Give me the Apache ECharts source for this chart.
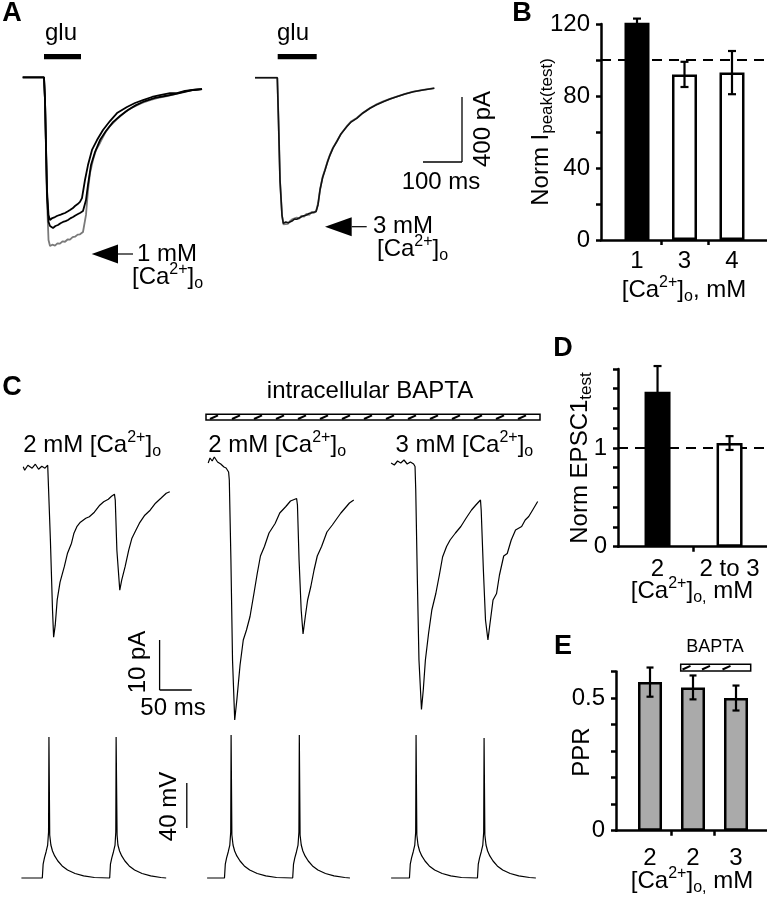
<!DOCTYPE html>
<html><head><meta charset="utf-8">
<script src="https://cdn.jsdelivr.net/npm/echarts@6/dist/echarts.min.js"></script>
<style>html,body{margin:0;padding:0;background:#fff}#c{width:767px;height:899px}</style>
</head><body><div id="c"></div>
<script>
// ---------- DATA ----------
// Panel A: glutamate-evoked currents [time ms, current pA]
const aLeftGray = [[0,0],[54.6,0],[57.2,-140],[62.3,-755],[66.2,-1001],[70,-1038],[76,-1030],[82.8,-1036],[89,-1022],[95.6,-1024],[102,-1010],[108.5,-1012],[115,-998],[121.3,-999],[128,-984],[134.1,-981],[141,-968],[146.9,-966],[154.6,-952],[162.3,-847],[167.4,-694],[172.6,-589],[180.2,-509],[187.9,-447],[198.2,-404],[211,-343],[223.8,-300],[241.8,-257],[262.3,-214],[282.8,-183],[305.9,-158],[326.4,-140],[346.9,-127],[370,-115],[390.5,-103],[411,-90],[434.1,-78],[459.8,-72]];
const aLeftBlack1 = [[0,0],[54.6,0],[57.2,-140],[62.3,-694],[66.2,-847],[70,-878],[76,-866],[82.8,-860],[89,-852],[95.6,-847],[102,-840],[108.5,-835],[115,-826],[121.3,-817],[128,-806],[134.1,-792],[141,-780],[146.9,-767],[152,-743],[159.7,-632],[167.4,-540],[177.7,-447],[190.5,-386],[205.9,-324],[223.8,-269],[241.8,-220],[267.4,-183],[287.9,-158],[308.4,-140],[331.5,-121],[352,-109],[377.7,-97],[395.6,-97],[416.1,-84],[436.7,-78],[459.8,-72]];
const aLeftBlack2 = [[0,0],[54.6,0],[57.2,-140],[62.3,-724],[66.2,-890],[70,-915],[77.7,-927],[84,-915],[90.5,-909],[97,-898],[103.3,-890],[110,-885],[116.2,-878],[122,-868],[129,-860],[135,-850],[141.8,-841],[148,-833],[154.6,-823],[162.3,-755],[167.4,-662],[175.1,-540],[185.4,-460],[198.2,-386],[213.5,-330],[231.5,-276],[249.5,-238],[270,-201],[290.5,-171],[313.6,-146],[339.2,-127],[364.8,-115],[390.5,-103],[416.1,-90],[436.7,-78],[459.8,-72]];
const aRightBlack = [[0,0],[57.2,0],[60.2,-260],[64.1,-630],[69.2,-845],[72.6,-896],[79,-888],[85.4,-892],[90,-880],[94.9,-882],[101,-870],[106.9,-871],[112,-860],[118,-857],[125,-850],[132.6,-845],[138,-836],[143.6,-833],[150,-828],[156.4,-825],[161.5,-783],[166.7,-691],[173.1,-617],[179.5,-569],[185.9,-519],[192.3,-476],[200,-433],[209.5,-394],[220.5,-346],[235.1,-302],[246.2,-273],[260.8,-250],[277,-217],[294.9,-188],[310.3,-168],[329,-148],[346.2,-131],[363.3,-117],[384.6,-100],[405.9,-86],[430.8,-76],[459.8,-65]];
const aRightGray = [[0,0],[57.2,0],[60.4,-270],[64.3,-640],[69.4,-850],[73,-903],[78,-895],[84,-900],[89,-885],[95,-872],[100,-880],[107,-860],[113,-868],[119,-850],[126,-855],[132,-838],[139,-845],[145,-826],[151,-832],[157,-818],[162,-770],[167,-684],[173.5,-610],[180,-562],[186,-515],[192.5,-472],[200,-430],[210,-390],[221,-343],[235,-300],[246,-270],[261,-248],[277,-215],[295,-186],[310,-166],[329,-146],[346,-130],[363,-116],[385,-99],[406,-85],[431,-75],[459.8,-64]];

// Panel B: Norm Ipeak(test)
const bCats = ['1', '3', '4'];
const bMeans = [121, 92, 93];
const bErrs = [2, 7, 12];
const bRef = 100;

// Panel C: EPSCs [time ms, current pA] and action potentials [time ms, mV]
const cI1 = [[0,0],[2.2,-0.7],[7.2,0.3],[13.8,-0.3],[18.8,0.5],[23.8,-0.5],[28.8,0.1],[33.8,-0.3],[38,0.3],[38.8,0],[42.2,-14.7],[45.5,-28.7],[47.2,-34.1],[49.7,-31.7],[52.7,-26.7],[57.2,-23.1],[63.8,-20],[68.8,-17.3],[75,-15.3],[78.8,-13.3],[83.3,-12],[88.8,-11.1],[97.2,-10.3],[102.7,-10],[110.5,-9.1],[118.9,-7.7],[125,-7],[132.2,-6.5],[137.2,-5.9],[141.7,-5.5],[143,-6.7],[145.5,-16.7],[150,-24.7],[153,-22.7],[158.3,-20],[163.9,-16.7],[168.9,-14.3],[175,-12.7],[180.5,-11.3],[188.9,-9.7],[197.2,-8.7],[205.5,-7.3],[213.9,-6.3],[222.2,-5.3],[227.7,-5]];
const cI2 = [[0,0.6],[2.8,1.6],[6.2,1],[9.5,1.8],[14.5,0.8],[19.5,0.4],[24.5,-0.2],[27.8,-0.4],[31.7,-1.2],[32.8,-2.8],[35.3,-18.8],[37.8,-38.8],[41.2,-50.8],[44.5,-46.8],[49.5,-39.8],[54.5,-34.8],[59.5,-32.8],[65,-30.1],[71.2,-25.4],[76.2,-21.5],[81.2,-18],[87.4,-16.1],[94.5,-13.4],[104,-11.5],[111.2,-9.4],[120.7,-8.1],[127.9,-7],[137.4,-6.5],[138.7,-7.8],[141.2,-18.8],[144.5,-28.8],[147.4,-33.6],[151.2,-29.8],[154.5,-26.8],[159.5,-24.1],[164.5,-20.8],[169.5,-18],[176.2,-16.1],[184.5,-13.2],[192.9,-11.8],[198.4,-10.8],[206.2,-9.4],[212.9,-8.4],[219.5,-7.4],[226.2,-6.8]];
const cI3 = [[0,0.4],[5,0],[10,0.8],[15,0.4],[20,1],[25,0.2],[30,0.6],[35,0.2],[37.2,-0.3],[38.3,-5],[40.8,-23],[43.3,-39],[47.2,-48.9],[50,-45],[53.3,-39],[58.3,-33.6],[63.3,-29],[69.5,-25.7],[75,-22],[80,-18.4],[86.2,-16.3],[91.7,-15],[100,-13.6],[108.4,-12.3],[116.7,-10.6],[125,-9],[131.7,-8],[138.9,-7],[140,-9],[143.4,-21],[146.7,-31],[150.5,-35],[153.4,-32],[158.4,-27],[163.9,-25.7],[168.4,-22],[175,-18.2],[180.5,-17.7],[186.7,-15],[193.4,-13],[202.9,-12.3],[208.4,-11],[213.9,-10.3],[220,-9],[227.8,-7.3]];
const cV1 = [[0,-65],[32.5,-65],[33.8,-52.6],[35.8,-47.2],[38.3,-41.9],[40.8,-35.7],[42.2,-24.1],[42.8,60.3],[43.7,60.3],[44,-26.8],[45.8,-35.7],[48.3,-41],[51.7,-45.4],[56.7,-49.9],[63.3,-54.3],[71.7,-57.9],[83.4,-61],[96.7,-63.2],[113.4,-64.6],[137.2,-65],[138.4,-52.6],[140.5,-47.2],[143,-41.9],[145.5,-35.7],[146.7,-24.1],[147.2,60.3],[148,60.3],[148.7,-26.8],[150,-35.7],[152.5,-41],[155.9,-45.4],[160.9,-49.9],[167.5,-54.3],[175.9,-57.9],[187.5,-61],[200.9,-63.2],[216.7,-64.6],[225,-65]];
const cV2 = [[0,-65],[27,-65],[28.3,-52.6],[30.3,-47.2],[32.8,-41.9],[35.3,-35.7],[36.7,-24.1],[37.3,62],[38.2,62],[38.5,-26.8],[40.3,-35.7],[42.8,-41],[46.2,-45.4],[51.2,-49.9],[57.8,-54.3],[66.2,-57.9],[77.9,-61],[91.2,-63.2],[107.9,-64.6],[133,-65],[134.3,-52.6],[136.3,-47.2],[138.8,-41.9],[141.3,-35.7],[142.7,-24.1],[143.3,62],[144.2,62],[144.5,-26.8],[146.3,-35.7],[148.8,-41],[152.2,-45.4],[157.2,-49.9],[163.8,-54.3],[172.2,-57.9],[183.9,-61],[197.2,-63.2],[213.9,-64.6],[222,-65]];
const cV3 = [[0,-65],[28.5,-65],[29.8,-52.6],[31.8,-47.2],[34.3,-41.9],[36.8,-35.7],[38.2,-24.1],[38.8,62],[39.7,62],[40,-26.8],[41.8,-35.7],[44.3,-41],[47.7,-45.4],[52.7,-49.9],[59.3,-54.3],[67.7,-57.9],[79.4,-61],[92.7,-63.2],[109.4,-64.6],[134.2,-65],[135.5,-52.6],[137.5,-47.2],[140,-41.9],[142.5,-35.7],[143.9,-24.1],[144.5,59.5],[145.4,59.5],[145.7,-26.8],[147.5,-35.7],[150,-41],[153.4,-45.4],[158.4,-49.9],[165,-54.3],[173.4,-57.9],[185.1,-61],[198.4,-63.2],[215.1,-64.6],[225,-65]];

// Panel D: Norm EPSC1test
const dCats = ['2', '2 to 3'];
const dMeans = [1.57, 1.05];
const dErrs = [0.26, 0.07];
const dRef = 1;

// Panel E: PPR
const eCats = ['2', '2', '3'];
const eMeans = [0.56, 0.54, 0.50];
const eErrs = [0.055, 0.045, 0.047];

// ---------- RENDER ----------
const FONT = '"Liberation Sans", Arial, Helvetica, sans-serif';
const chart = echarts.init(document.getElementById('c'), null, {renderer: 'canvas'});

function richSet(fs, subFs) {
  return {
    n:   {fontSize: fs, fontFamily: FONT, fill: '#000', color: '#000', lineHeight: 30},
    sup: {fontSize: 16, fontFamily: FONT, fill: '#000', color: '#000', verticalAlign: 'top', lineHeight: 22},
    sub: {fontSize: subFs || 16, fontFamily: FONT, fill: '#000', color: '#000', verticalAlign: 'bottom', lineHeight: 8}
  };
}
function txt(x, y, text, o) {
  o = o || {};
  return {
    type: 'text', x: x, y: y, rotation: o.rot || 0, z: 100,
    style: {
      text: text, fill: '#000', fontSize: o.fs || 24, fontFamily: FONT,
      fontWeight: o.fw || 'normal',
      align: o.align || 'center', textAlign: o.align || 'center',
      verticalAlign: 'middle', textVerticalAlign: 'middle',
      rich: o.rich
    }
  };
}
function seg(x1, y1, x2, y2, w) {
  return {type: 'line', z: 100, shape: {x1, y1, x2, y2}, style: {stroke: '#000', lineWidth: w || 1.3}};
}

// grids
const grids = [], xAxes = [], yAxes = [], series = [];
function traceGrid(left, top, width, height, xmax, ymin, ymax) {
  const i = grids.length;
  grids.push({left, top, width, height});
  xAxes.push({type: 'value', gridIndex: i, min: 0, max: xmax, show: false});
  yAxes.push({type: 'value', gridIndex: i, min: ymin, max: ymax, show: false});
  return i;
}
function traceSeries(gi, data, color, w) {
  series.push({type: 'line', xAxisIndex: gi, yAxisIndex: gi, data, symbol: 'none', showSymbol: false,
    clip: false, silent: true, lineStyle: {color, width: w}, z: 3});
}

// Panel A
const gAL = traceGrid(22.7, 56.2, 195, 216.1, 500, -1200, 130);
const gAR = traceGrid(255, 56.6, 195, 216.1, 500, -1200, 130);
traceSeries(gAL, aLeftGray, '#7a7a7a', 1.8);
traceSeries(gAL, aLeftBlack2, '#000', 1.8);
traceSeries(gAL, aLeftBlack1, '#000', 1.8);
traceSeries(gAR, aRightGray, '#7a7a7a', 1.8);
traceSeries(gAR, aRightBlack, '#111', 1.6);

// Panel C traces
const cWidth = 148, cXmax = 230;
const gC1 = traceGrid(23.25, 446.7, cWidth, 300, cXmax, -56, 4);
const gC2 = traceGrid(208.2, 446, cWidth, 300, cXmax, -56, 4);
const gC3 = traceGrid(391.1, 445, cWidth, 300, cXmax, -56, 4);
traceSeries(gC1, cI1, '#000', 1.2);
traceSeries(gC2, cI2, '#000', 1.2);
traceSeries(gC3, cI3, '#000', 1.2);
const gV1 = traceGrid(21.4, 730.6, cWidth, 153, cXmax, -70, 66);
const gV2 = traceGrid(207.1, 730.6, cWidth, 153, cXmax, -70, 66);
const gV3 = traceGrid(391.1, 730.6, cWidth, 153, cXmax, -70, 66);
traceSeries(gV1, cV1, '#000', 1.2);
traceSeries(gV2, cV2, '#000', 1.2);
traceSeries(gV3, cV3, '#000', 1.2);

// Bar panels
const AX = {color: '#000', width: 2.5};
function barPanel(cfg) {
  const i = grids.length;
  grids.push({left: cfg.left, top: cfg.top, width: cfg.width, height: cfg.height});
  const n = cfg.cats.length;
  const ticks = [];
  for (let k = 1; k < n; k++) ticks.push(k + 0.5);
  xAxes.push({
    type: 'value', gridIndex: i, min: cfg.xmin, max: cfg.xmax,
    splitLine: {show: false},
    axisLine: {show: true, lineStyle: AX},
    axisTick: {show: true, customValues: ticks, length: 5, lineStyle: AX},
    axisLabel: {show: true, customValues: cfg.cats.map((c, k) => k + 1),
      formatter: v => cfg.cats[Math.round(v) - 1], margin: cfg.xLabelMargin,
      fontSize: 24, fontFamily: FONT, color: '#000'}
  });
  yAxes.push({
    type: 'value', gridIndex: i, min: 0, max: cfg.ymax,
    splitLine: {show: false},
    axisLine: {show: true, lineStyle: AX},
    axisTick: {show: true, customValues: cfg.yTicks, length: 5, lineStyle: AX},
    axisLabel: {show: true, customValues: cfg.yLabels, margin: 11,
      formatter: v => String(v), fontSize: 24, fontFamily: FONT, color: '#000'}
  });
  if (cfg.ref !== undefined) {
    series.push({type: 'line', xAxisIndex: i, yAxisIndex: i, z: 1, silent: true, symbol: 'none',
      data: [[cfg.xmin, cfg.ref], [cfg.xmax, cfg.ref]],
      lineStyle: {color: '#000', width: 2, type: [10, 7]}});
  }
  series.push({type: 'bar', xAxisIndex: i, yAxisIndex: i, z: 2, silent: true, barWidth: cfg.barWidth,
    data: cfg.means.map((m, k) => ({value: [k + 1, m],
      itemStyle: {color: cfg.fill(k), borderColor: '#000', borderWidth: 2.5}}))});
  series.push({type: 'custom', xAxisIndex: i, yAxisIndex: i, z: 5, silent: true, clip: false,
    data: cfg.means.map((m, k) => [k + 1, m - cfg.errs[k], m + cfg.errs[k]]),
    renderItem: (params, api) => {
      const x = api.value(0);
      const lo = api.coord([x, api.value(1)]);
      const hi = api.coord([x, api.value(2)]);
      const w = cfg.cap / 2;
      const st = {stroke: '#000', lineWidth: 2.2};
      return {type: 'group', children: [
        {type: 'line', shape: {x1: lo[0], y1: lo[1], x2: hi[0], y2: hi[1]}, style: st},
        {type: 'line', shape: {x1: hi[0] - w, y1: hi[1], x2: hi[0] + w, y2: hi[1]}, style: st},
        {type: 'line', shape: {x1: lo[0] - w, y1: lo[1], x2: lo[0] + w, y2: lo[1]}, style: st}
      ]};
    }});
}
barPanel({left: 601, top: 24, width: 166, height: 216, xmin: 0.242, xmax: 3.737,
  cats: bCats, means: bMeans, errs: bErrs, ref: bRef, ymax: 120,
  yTicks: [0, 20, 40, 60, 80, 100, 120], yLabels: [0, 40, 80, 120],
  barWidth: 25, cap: 8, xLabelMargin: 9, fill: k => (k === 0 ? '#000' : '#fff')});
barPanel({left: 618, top: 369, width: 149, height: 177.7, xmin: 0.451, xmax: 2.52,
  cats: dCats, means: dMeans, errs: dErrs, ref: dRef, ymax: 1.8,
  yTicks: [0, 0.2, 0.4, 0.6, 0.8, 1, 1.2, 1.4, 1.6, 1.8], yLabels: [0, 1],
  barWidth: 26, cap: 8, xLabelMargin: 11, fill: k => (k === 0 ? '#000' : '#fff')});
barPanel({left: 616, top: 671.5, width: 151, height: 159.2, xmin: 0.209, xmax: 3.721,
  cats: eCats, means: eMeans, errs: eErrs, ymax: 0.6,
  yTicks: [0, 0.1, 0.2, 0.3, 0.4, 0.5, 0.6], yLabels: [0, 0.5],
  barWidth: 24, cap: 7, xLabelMargin: 16, fill: k => '#aaaaaa'});

// ---------- annotations ----------
const R = richSet(24);
const Rsub = richSet(24, 17);
const g = [];
// panel letters
g.push(txt(12, 14, 'A', {fw: 'bold', fs: 27}));
g.push(txt(522, 14, 'B', {fw: 'bold', fs: 27}));
g.push(txt(12, 388, 'C', {fw: 'bold', fs: 27}));
g.push(txt(563, 349, 'D', {fw: 'bold', fs: 27}));
g.push(txt(563, 647, 'E', {fw: 'bold', fs: 27}));
// Panel A
g.push(txt(61, 33, 'glu'));
g.push(txt(293, 33, 'glu'));
g.push({type: 'rect', z: 100, shape: {x: 44, y: 54, width: 37, height: 5.3}, style: {fill: '#000'}});
g.push({type: 'rect', z: 100, shape: {x: 277.7, y: 54, width: 39, height: 5.3}, style: {fill: '#000'}});
g.push({type: 'polygon', z: 100, shape: {points: [[91.7, 254], [118, 244.5], [118, 263.5]]}, style: {fill: '#000'}});
g.push(seg(118, 254, 133, 254, 1.2));
g.push(txt(137, 254, '1 mM', {align: 'left'}));
g.push(txt(132, 277, '{n|[Ca}{sup|2+}{n|]}{sub|o}', {align: 'left', rich: R}));
g.push({type: 'polygon', z: 100, shape: {points: [[325, 226.7], [351.7, 217.2], [351.7, 236.2]]}, style: {fill: '#000'}});
g.push(seg(351.7, 226.7, 366.7, 226.7, 1.2));
g.push(txt(373, 226, '3 mM', {align: 'left'}));
g.push(txt(377, 249, '{n|[Ca}{sup|2+}{n|]}{sub|o}', {align: 'left', rich: R}));
// A scale bar
g.push(seg(423, 162, 462, 162));
g.push(seg(462, 97, 462, 162));
g.push(txt(441, 182, '100 ms'));
g.push(txt(483, 129, '400 pA', {rot: Math.PI / 2}));
// Panel B titles
g.push(txt(541, 132, '{n|Norm I}{sub|peak(test)}', {rot: Math.PI / 2, rich: Rsub}));
g.push(txt(684, 290, '{n|[Ca}{sup|2+}{n|]}{sub|o}{n|, mM}', {rich: R}));
// Panel C
g.push(txt(370, 391, 'intracellular BAPTA'));
g.push({type: 'rect', z: 100, shape: {x: 206, y: 414.3, width: 334, height: 5.7}, style: {fill: '#fff', stroke: '#000', lineWidth: 1.5}});
for (let k = 0; k < 15; k++) {
  const cx = 214 + 22 * k;
  g.push(seg(cx - 4, 419, cx + 4, 415.3, 2));
}
g.push(txt(23.2, 445, '{n|2 mM [Ca}{sup|2+}{n|]}{sub|o}', {align: 'left', rich: R}));
g.push(txt(208.2, 445, '{n|2 mM [Ca}{sup|2+}{n|]}{sub|o}', {align: 'left', rich: R}));
g.push(txt(395.4, 445, '{n|3 mM [Ca}{sup|2+}{n|]}{sub|o}', {align: 'left', rich: R}));
// C scale bars
g.push(seg(159.6, 640, 159.6, 690));
g.push(seg(159.6, 690, 191.8, 690));
g.push(txt(173, 708, '50 ms'));
g.push(txt(138, 662, '10 pA', {rot: Math.PI / 2}));
g.push(seg(186.8, 783, 186.8, 828));
g.push(txt(169.6, 806.5, '40 mV', {rot: Math.PI / 2}));
// Panel D titles
g.push(txt(580, 458, '{n|Norm EPSC1}{sub|test}', {rot: Math.PI / 2, rich: Rsub}));
g.push(txt(692, 591, '{n|[Ca}{sup|2+}{n|]}{sub|o,}{n| mM}', {rich: R}));
// Panel E titles
g.push(txt(582, 752, 'PPR', {rot: Math.PI / 2}));
g.push(txt(692, 881, '{n|[Ca}{sup|2+}{n|]}{sub|o,}{n| mM}', {rich: R}));
g.push(txt(715, 647, 'BAPTA', {fs: 18}));
g.push({type: 'rect', z: 100, shape: {x: 680.7, y: 664.3, width: 70, height: 6.7}, style: {fill: '#fff', stroke: '#000', lineWidth: 1.5}});
[686.5, 706, 726.5].forEach(cx => g.push(seg(cx - 4, 669.5, cx + 4, 665.8, 2)));

chart.setOption({
  animation: false,
  backgroundColor: '#fff',
  grid: grids,
  xAxis: xAxes,
  yAxis: yAxes,
  series: series,
  graphic: {elements: g}
});
</script></body></html>
